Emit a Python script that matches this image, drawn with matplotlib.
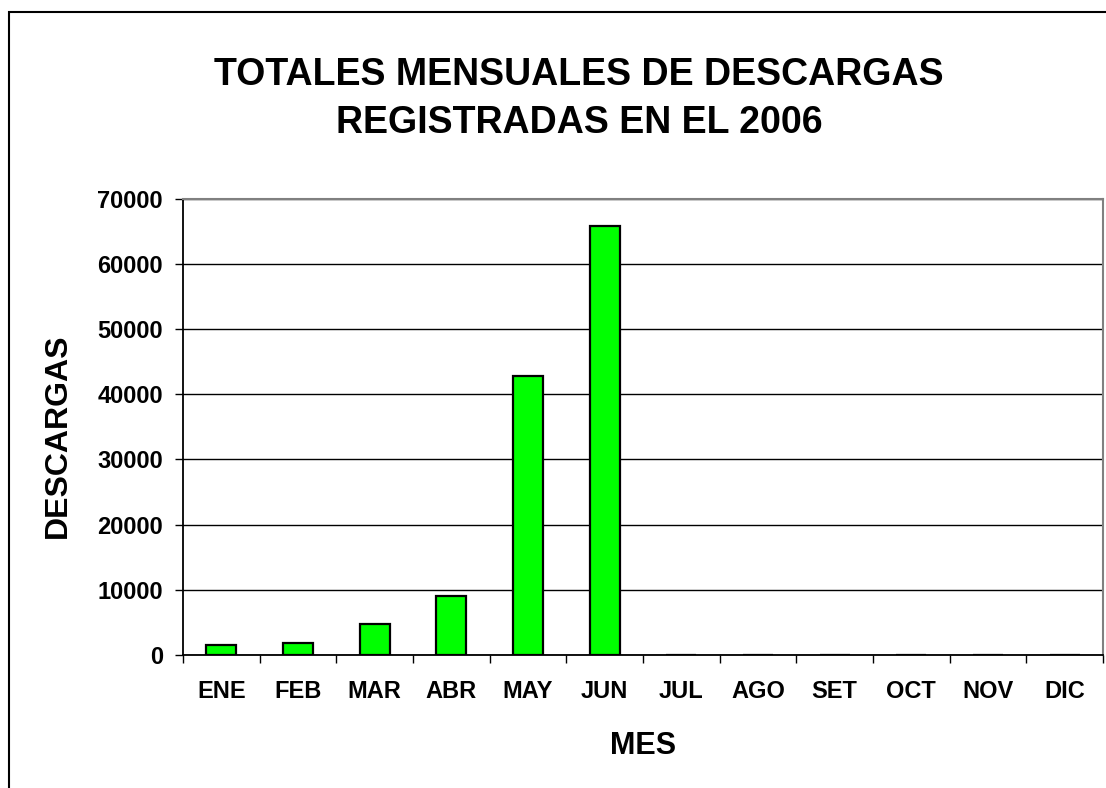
import matplotlib.pyplot as plt
import numpy as np
from matplotlib.patches import Rectangle

plt.rcParams['font.family'] = ['Liberation Sans', 'DejaVu Sans']
plt.rcParams['font.weight'] = 'bold'

# data
meses = ["ENE", "FEB", "MAR", "ABR", "MAY", "JUN", "JUL", "AGO", "SET", "OCT", "NOV", "DIC"]
descargas = [1600, 1900, 4700, 9000, 42800, 65850, 0, 0, 0, 0, 0, 0]
y_ticks = [0, 10000, 20000, 30000, 40000, 50000, 60000, 70000]

W, H = 1106, 788
fig = plt.figure(figsize=(W / 100, H / 100), dpi=100)
ax = fig.add_axes([183 / W, 1 - 655 / H, 920 / W, (655 - 198.5) / H])

x = np.arange(len(meses))
ax.bar(x, descargas, width=0.39, color="#00ff00", edgecolor="black", linewidth=1.6, zorder=3)

ax.set_xlim(-0.5, len(meses) - 0.5)
ax.set_ylim(0, 70000)
ax.set_yticks(y_ticks)
ax.set_yticklabels([str(v) for v in y_ticks], fontsize=17, fontweight="bold")
ax.yaxis.grid(True, color="black", linewidth=1.0, zorder=0)
ax.tick_params(axis="y", direction="out", length=6, width=1, pad=8.5)

# month labels centred on bars, tick marks between categories
ax.set_xticks(np.arange(len(meses) + 1) - 0.5)
ax.set_xticklabels([])
ax.set_xticks(x, minor=True)
ax.set_xticklabels(meses, minor=True, fontsize=17, fontweight="bold")
ax.tick_params(axis="x", which="major", direction="out", length=6, width=1)
ax.tick_params(axis="x", which="minor", length=0, pad=18)

for s in ["top", "right"]:
    ax.spines[s].set_color("#808080")
    ax.spines[s].set_linewidth(1.5)
for s in ["left", "bottom"]:
    ax.spines[s].set_color("black")
    ax.spines[s].set_linewidth(1.3)

fig.text(579 / W, 1 - 99 / H, "TOTALES MENSUALES DE DESCARGAS\nREGISTRADAS EN EL 2006",
         ha="center", va="center", fontsize=27, fontweight="bold", linespacing=1.4)
fig.text(643 / W, 1 - 746 / H, "MES", ha="center", va="center", fontsize=22, fontweight="bold")
fig.text(58 / W, 1 - 436 / H, "DESCARGAS", ha="center", va="center", rotation=90,
         fontsize=23, fontweight="bold")

# outer chart frame (runs off the right and bottom edges)
fig.patches.append(Rectangle((9 / W, -0.05), 1.2, 1 - 12 / H + 0.05, transform=fig.transFigure,
                             fill=False, edgecolor="black", linewidth=1.5))

fig.savefig("out.png", dpi=100)
